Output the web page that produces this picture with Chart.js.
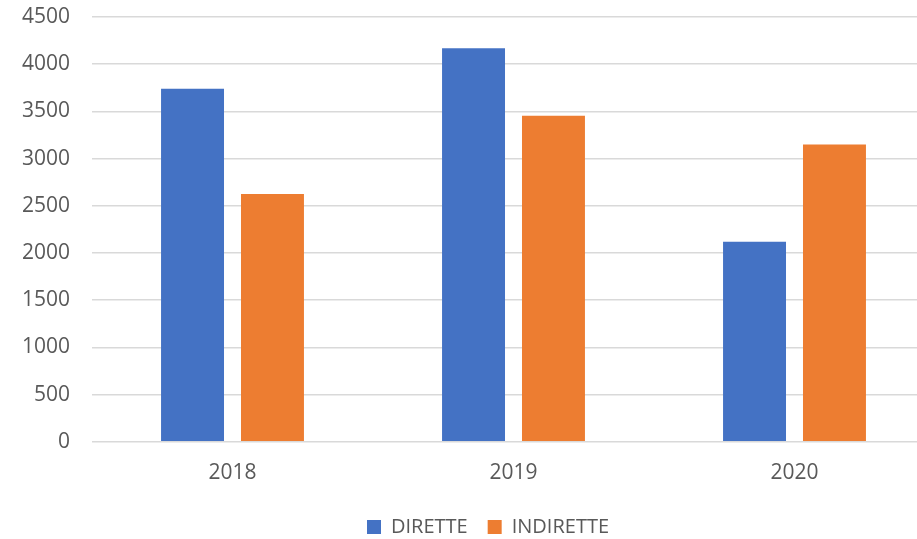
<!DOCTYPE html>
<html>
<head>
<meta charset="utf-8">
<script src="https://cdn.jsdelivr.net/npm/chart.js@4/dist/chart.umd.min.js"></script>
<style>
  html, body { margin: 0; padding: 0; background: #ffffff; overflow: hidden; }
  #wrap { width: 954px; height: 539px; }
</style>
</head>
<body>
<div id="wrap"><canvas id="c" width="954" height="539"></canvas></div>
<script>
const categories = ["2018", "2019", "2020"];
const seriesNames = ["DIRETTE", "INDIRETTE"];
const diretteValues = [3740, 4168, 2120];
const indiretteValues = [2625, 3453, 3149];
const yTicks = [0, 500, 1000, 1500, 2000, 2500, 3000, 3500, 4000, 4500];

const FONT = "'Open Sans', 'Liberation Sans', sans-serif";
const TEXT = "#595959";

new Chart(document.getElementById("c"), {
  type: "bar",
  data: {
    labels: categories,
    datasets: [
      { label: seriesNames[0], data: diretteValues, backgroundColor: "#4472C4", borderWidth: 0,
        barPercentage: 0.7875, categoryPercentage: 0.569 },
      { label: seriesNames[1], data: indiretteValues, backgroundColor: "#ED7D31", borderWidth: 0,
        barPercentage: 0.7875, categoryPercentage: 0.569 }
    ]
  },
  options: {
    responsive: false,
    devicePixelRatio: 1,
    animation: false,
    layout: { padding: { left: 22, right: 0, top: 17, bottom: -8 } },
    plugins: {
      tooltip: { enabled: false },
      legend: {
        position: "bottom",
        labels: {
          boxWidth: 14, boxHeight: 14, padding: 20,
          color: TEXT,
          font: { family: FONT, size: 20 }
        }
      }
    },
    scales: {
      x: {
        grid: { display: false },
        border: { display: false },
        ticks: { color: TEXT, font: { family: FONT, size: 21 }, padding: 11 }
      },
      y: {
        min: 0, max: 4500,
        afterBuildTicks: (scale) => { scale.ticks = yTicks.map(v => ({ value: v })); },
        afterFit: (scale) => { scale.width = 70; scale.paddingTop = 0; },
        grid: { color: "#d9d9d9", lineWidth: 1.5, drawTicks: false },
        border: { display: false },
        ticks: {
          color: TEXT, font: { family: FONT, size: 21 }, padding: 22,
          callback: (value) => String(value)
        }
      },
      ySpace: {
        type: "linear",
        position: "right",
        display: true,
        grid: { display: false },
        border: { display: false },
        ticks: { display: false },
        afterFit: (scale) => { scale.width = 19; }
      }
    }
  }
});
</script>
</body>
</html>
